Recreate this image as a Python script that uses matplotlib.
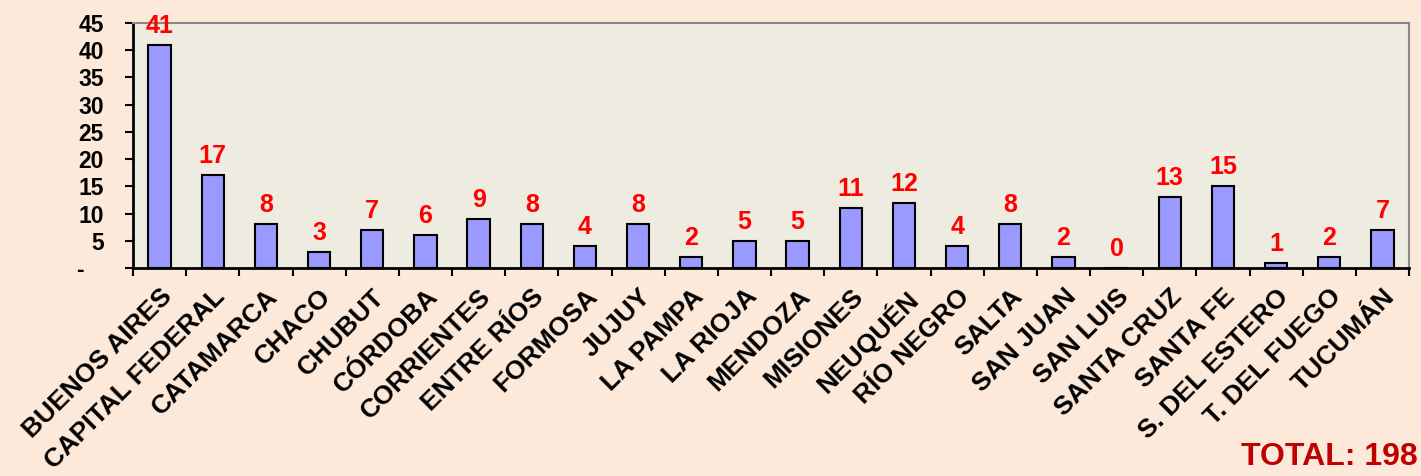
import matplotlib.pyplot as plt
import numpy as np

plt.rcParams['font.family'] = ['Liberation Sans', 'DejaVu Sans']
plt.rcParams['font.weight'] = 'bold'

provincias = ["BUENOS AIRES", "CAPITAL FEDERAL", "CATAMARCA", "CHACO", "CHUBUT",
              "CÓRDOBA", "CORRIENTES", "ENTRE RÍOS", "FORMOSA", "JUJUY",
              "LA PAMPA", "LA RIOJA", "MENDOZA", "MISIONES", "NEUQUÉN",
              "RÍO NEGRO", "SALTA", "SAN JUAN", "SAN LUIS", "SANTA CRUZ",
              "SANTA FE", "S. DEL ESTERO", "T. DEL FUEGO", "TUCUMÁN"]
casos = [41, 17, 8, 3, 7, 6, 9, 8, 4, 8, 2, 5, 5, 11, 12, 4, 8, 2, 0, 13, 15, 1, 2, 7]
yticks = [0, 5, 10, 15, 20, 25, 30, 35, 40, 45]
ytick_labels = ["-   ", "5", "10", "15", "20", "25", "30", "35", "40", "45"]
total = "TOTAL: 198"

fig = plt.figure(figsize=(14.21, 4.76), dpi=100, facecolor="#FDE9DA")
ax = fig.add_axes([0.0936, 0.437, 0.898, 0.515], facecolor="#EEEBE0")

x = np.arange(len(provincias))
ax.bar(x, casos, width=0.42, color="#9999FF", edgecolor="black", linewidth=1.5)
for xi, v in zip(x, casos):
    ax.annotate(str(v), (xi, v), xytext=(0, 5), textcoords="offset points",
                ha="center", va="bottom", color="red", fontsize=18, fontweight="bold")

ax.set_xlim(-0.5, len(provincias) - 0.5)
ax.set_ylim(0, 45)
ax.set_yticks(yticks)
ax.set_yticklabels(ytick_labels, fontsize=16.5, fontweight="bold")
ax.set_xticks(x)
ax.set_xticklabels(provincias, rotation=45, ha="right", rotation_mode="anchor",
                   fontsize=19, fontweight="bold")
ax.set_xticks(np.arange(-0.5, len(provincias)), minor=True)
ax.tick_params(axis="x", which="major", length=0, pad=12)
ax.tick_params(axis="x", which="minor", length=6, width=1.5, direction="out")
ax.tick_params(axis="y", length=6, width=1.5, direction="out", pad=15)

for s in ["left", "bottom"]:
    ax.spines[s].set_linewidth(2)
    ax.spines[s].set_color("black")
for s in ["top", "right"]:
    ax.spines[s].set_linewidth(1.5)
    ax.spines[s].set_color("#888888")

fig.text(0.998, 0.008, total, ha="right", va="bottom", color="#C00000",
         fontsize=23, fontweight="bold")

fig.savefig("out.png", dpi=100, facecolor=fig.get_facecolor())
